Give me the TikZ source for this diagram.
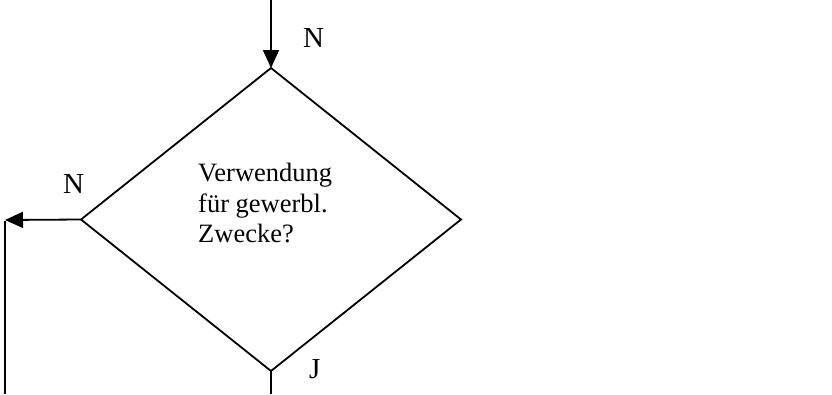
\documentclass[tikz,border=0pt]{standalone}
\usepackage{fontspec}
\setmainfont{Liberation Serif}
\usetikzlibrary{shapes.geometric,arrows.meta}
\begin{document}
\begin{tikzpicture}[x=1pt,y=-1pt,
  conn/.style={line width=1.8pt},
  arr/.style={conn, -{Triangle[length=18pt,width=16pt]}},
  dec/.style={diamond, draw, line width=1.8pt, minimum width=380pt, minimum height=303pt, inner sep=0pt, outer sep=0pt},
  lbl/.style={font=\fontsize{29}{32}\selectfont, inner sep=0pt, anchor=base west},
  body/.style={font=\fontsize{26.5}{30}\selectfont, inner sep=0pt, anchor=base west}]
\useasboundingbox (0,0) rectangle (832,394);
\node[dec] (d) at (271,219.5) {};
\coordinate (top) at (271,0);
\coordinate (corner) at (5,220);
\coordinate (endL) at (5,394);
\coordinate (endB) at (271,394);
\draw[arr] (top) -- (d.north);
\draw[arr] (d.west) -- (corner);
\draw[conn] ([yshift=-0.9pt]corner) -- (endL);
\draw[conn] (d.south) -- (endB);
\node[body] (t1) at (198,181) {Verwendung};
\node[body] (t2) at (198,212) {für gewerbl.};
\node[body] (t3) at (198,242) {Zwecke?};
\node[lbl] (n1) at (303,47) {N};
\node[lbl] (n2) at (63,193) {N};
\node[lbl] (j1) at (309,378) {J};
\end{tikzpicture}
\end{document}
